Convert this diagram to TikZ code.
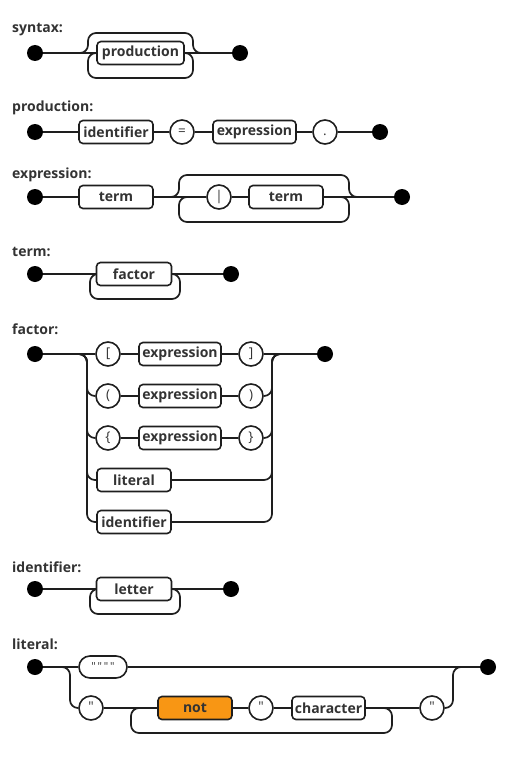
\documentclass[tikz,border=0pt]{standalone}
\usepackage{fontspec}
\setmainfont{Open Sans}
\newfontfamily\tmfont{Open Sans}[Ligatures=TeXOff]
\definecolor{linec}{HTML}{1E1E1E}
\definecolor{textc}{HTML}{333333}
\definecolor{orangec}{RGB}{248,150,20}
\pgfdeclarelayer{bg}
\pgfsetlayers{bg,main}
\tikzset{
  rail/.style={draw=linec, line width=1.7pt},
  rr/.style={rail, rounded corners=8pt},
  nt/.style={draw=linec, line width=1.6pt, rounded corners=4pt, fill=white,
    minimum height=23pt, inner sep=0pt, text=textc,
    font=\bfseries\fontsize{14}{15}\selectfont},
  tm/.style={draw=linec, line width=1.6pt, circle, fill=white,
    minimum size=24pt, inner sep=0pt, text=textc,
    text height=9.5pt, text depth=2.5pt,
    font=\tmfont\fontsize{13.5}{14}\selectfont},
  pill/.style={draw=linec, line width=1.6pt, rounded corners=11pt, fill=white,
    minimum height=22pt, inner sep=0pt, text=textc,
    text height=8pt, text depth=2pt,
    font=\tmfont\fontsize{11}{11}\selectfont},
  endpt/.style={circle, fill=black, minimum size=16pt, inner sep=0pt},
  lbl/.style={anchor=west, inner sep=0pt, text=textc,
    font=\bfseries\fontsize{14}{15}\selectfont},
}
\begin{document}
\begin{tikzpicture}[x=1pt,y=-1pt]
\useasboundingbox (0,0) rectangle (526,760);

% ---------- syntax ----------
\node[lbl] (Lsyn) at (12,30) {syntax:};
\node[endpt] (s0) at (35,53) {};
\node[nt, minimum width=87pt] (sP) at (140.5,53) {production};
\node[endpt] (s1) at (240,53) {};
\coordinate (sA) at (88,53);
\coordinate (sB) at (193,53);

% ---------- production ----------
\node[lbl] (Lpro) at (12,108) {production:};
\node[endpt] (p0) at (35,132) {};
\node[nt, minimum width=74pt] (pI) at (116,132) {identifier};
\node[tm] (pEq) at (182,132) {=};
\node[nt, minimum width=83pt] (pE) at (254.5,132) {expression};
\node[tm] (pDot) at (325,132) {.};
\node[endpt] (p1) at (380,132) {};

% ---------- expression ----------
\node[lbl] (Lexp) at (12,175) {expression:};
\node[endpt] (e0) at (35,197) {};
\node[nt, minimum width=74pt] (eT1) at (116,197) {term};
\node[tm] (eBar) at (219,197) {|};
\node[nt, minimum width=74pt] (eT2) at (286,197) {term};
\node[endpt] (e1) at (402,197) {};
\coordinate (eA) at (179,197);
\coordinate (eB) at (349,197);

% ---------- term ----------
\node[lbl] (Lterm) at (12,252) {term:};
\node[endpt] (t0) at (35,274) {};
\node[nt, minimum width=75pt] (tF) at (134,274) {factor};
\node[endpt] (t1) at (231,274) {};
\coordinate (tA) at (90,274);
\coordinate (tB) at (180,274);

% ---------- factor ----------
\node[lbl] (Lfac) at (12,329) {factor:};
\node[endpt] (f0) at (35,354) {};
\node[endpt] (f1) at (325,354) {};
\node[tm] (fo1) at (108,354) {[};
\node[nt, minimum width=82pt] (fe1) at (180,354) {expression};
\node[tm] (fc1) at (251,354) {]};
\node[tm] (fo2) at (108,396) {(};
\node[nt, minimum width=82pt] (fe2) at (180,396) {expression};
\node[tm] (fc2) at (251,396) {)};
\node[tm] (fo3) at (108,438) {\{};
\node[nt, minimum width=82pt] (fe3) at (180,438) {expression};
\node[tm] (fc3) at (251,438) {\}};
\node[nt, minimum width=74pt] (fLit) at (134,480) {literal};
\node[nt, minimum width=74pt] (fId) at (134,522) {identifier};
\coordinate (fA) at (87,354);
\coordinate (fB) at (272,354);

% ---------- identifier ----------
\node[lbl] (Lid) at (12,567) {identifier:};
\node[endpt] (i0) at (35,589) {};
\node[nt, minimum width=75pt] (iL) at (134,589) {letter};
\node[endpt] (i1) at (231,589) {};
\coordinate (iA) at (90,589);
\coordinate (iB) at (180,589);

% ---------- literal ----------
\node[lbl] (Llit) at (12,644) {literal:};
\node[endpt] (l0) at (35,667) {};
\node[pill, minimum width=48pt] (lq4) at (103,667) {"\,"\,"\,"};
\node[endpt] (l1) at (488,667) {};
\node[tm] (lq1) at (91,708) {"};
\node[nt, minimum width=74pt, fill=orangec] (lNot) at (195,708) {not};
\node[tm] (lq2) at (261,708) {"};
\node[nt, minimum width=73pt] (lCh) at (328.5,708) {character};
\node[tm] (lq3) at (432,708) {"};
\coordinate (lA) at (70,667);
\coordinate (lB) at (453,667);
\coordinate (kA) at (131,708);
\coordinate (kB) at (392,708);

\begin{pgfonlayer}{bg}
% syntax
\draw[rail] (s0) -- (sP) -- (s1);
\draw[rr] ([xshift=-8pt]sA) -- (sA) -- ++(0,-20) -| (sB) -- ++(8,0);
\draw[rr] ([xshift=8pt]sA) -- (sA) -- ++(0,25) -| (sB) -- ++(-8,0);
% production
\draw[rail] (p0) -- (pI) -- (pEq) -- (pE) -- (pDot) -- (p1);
% expression
\draw[rail] (e0) -- (eT1) -- (eBar) -- (eT2) -- (e1);
\draw[rr] ([xshift=-8pt]eA) -- (eA) -- ++(0,-22) -| (eB) -- ++(8,0);
\draw[rr] ([xshift=8pt]eA) -- (eA) -- ++(0,25) -| (eB) -- ++(-8,0);
% term
\draw[rail] (t0) -- (tF) -- (t1);
\draw[rr] ([xshift=8pt]tA) -- (tA) -- ++(0,25) -| (tB) -- ++(-8,0);
% factor
\draw[rail] (f0) -- (fo1) -- (fe1) -- (fc1) -- (f1);
\draw[rail] (fo2) -- (fe2) -- (fc2);
\draw[rail] (fo3) -- (fe3) -- (fc3);
\foreach \n in {fo2,fo3,fLit,fId}
  \draw[rr] ([xshift=-9pt]fA) -- (fA) |- (\n);
\foreach \n in {fc2,fc3,fLit,fId}
  \draw[rr] (\n) -| (fB) -- ++(9,0);
% identifier
\draw[rail] (i0) -- (iL) -- (i1);
\draw[rr] ([xshift=8pt]iA) -- (iA) -- ++(0,25) -| (iB) -- ++(-8,0);
% literal
\draw[rail] (l0) -- (lq4) -- (l1);
\draw[rr] ([xshift=-8pt]lA) -- (lA) |- (lq1);
\draw[rail] (lq1) -- (lNot) -- (lq2) -- (lCh) -- (lq3);
\draw[rr] (lq3) -| (lB) -- ++(9,0);
\draw[rr] ([xshift=8pt]kA) -- (kA) -- ++(0,25) -| (kB) -- ++(-8,0);
\end{pgfonlayer}
\end{tikzpicture}
\end{document}
